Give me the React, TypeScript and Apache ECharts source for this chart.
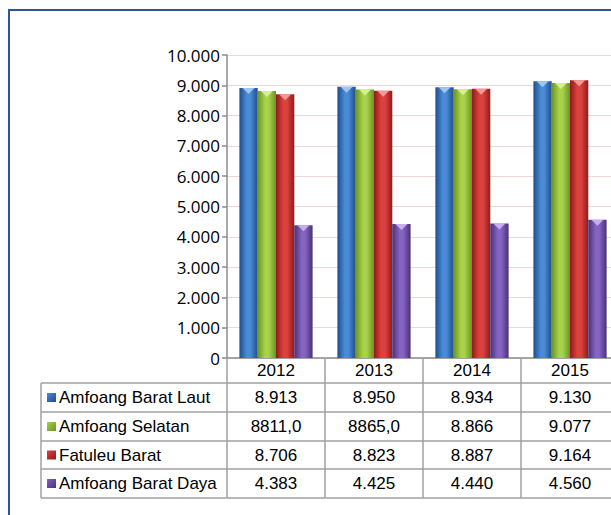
import React, { useEffect, useRef } from 'react';
import * as echarts from 'echarts';

const years = ['2012', '2013', '2014', '2015'];
const seriesNames = ['Amfoang Barat Laut', 'Amfoang Selatan', 'Fatuleu Barat', 'Amfoang Barat Daya'];
const baratLaut = [8913, 8950, 8934, 9130];
const selatan = [8811, 8865, 8866, 9077];
const fatuleuBarat = [8706, 8823, 8887, 9164];
const baratDaya = [4383, 4425, 4440, 4560];
const baratLautText = ['8.913', '8.950', '8.934', '9.130'];
const selatanText = ['8811,0', '8865,0', '8.866', '9.077'];
const fatuleuBaratText = ['8.706', '8.823', '8.887', '9.164'];
const baratDayaText = ['4.383', '4.425', '4.440', '4.560'];
const yMin = 0;
const yMax = 10000;
const yStep = 1000;

const palettes = [
  { edge: '#1f4d8a', mid: '#4a8ad6', light: '#a4cdf5' },
  { edge: '#6a9420', mid: '#a8d14c', light: '#dcf29a' },
  { edge: '#8f1b1b', mid: '#dc423d', light: '#f7a3a0' },
  { edge: '#48307a', mid: '#8663c0', light: '#d0b6f4' },
];

const fmt = (v: number) => String(v).replace(/\B(?=(\d{3})+(?!\d))/g, '.');

const grad = (p: { edge: string; mid: string }) =>
  new echarts.graphic.LinearGradient(0, 0, 1, 0, [
    { offset: 0, color: p.edge },
    { offset: 0.4, color: p.mid },
    { offset: 0.6, color: p.mid },
    { offset: 1, color: p.edge },
  ]);

export default function App() {
  const ref = useRef<HTMLDivElement>(null);
  useEffect(() => {
    if (!ref.current) return;
    const chart = echarts.init(ref.current, undefined, { renderer: 'svg' });
    const values = [baratLaut, selatan, fatuleuBarat, baratDaya];
    const texts = [baratLautText, selatanText, fatuleuBaratText, baratDayaText];
    const gridLeft = 227;
    const gridTop = 55;
    const gridHeight = 303;
    const gridWidth = 392;
    const barW = 18.3;
    const barSeries: any[] = values.map((d, i) => ({
      name: seriesNames[i],
      type: 'bar',
      data: d,
      barWidth: barW,
      barGap: '0%',
      itemStyle: { color: grad(palettes[i]) },
      z: 2,
    }));
    const capSeries: any[] = values.map((d, i) => ({
      name: seriesNames[i] + ' cap',
      type: 'pictorialBar',
      data: d,
      barWidth: barW,
      barGap: '0%',
      symbol: 'triangle',
      symbolRotate: 180,
      symbolPosition: 'end',
      symbolSize: [12, 6],
      itemStyle: { color: palettes[i].light, opacity: 0.9 },
      z: 3,
    }));
    chart.setOption({
      animation: false,
      grid: { left: gridLeft, top: gridTop, height: gridHeight, width: gridWidth },
      xAxis: {
        type: 'category',
        data: years,
        axisLine: { lineStyle: { color: '#8c8c8c', width: 1.5 } },
        axisTick: { show: true, interval: 0, length: 140, lineStyle: { color: '#a0a0a0', width: 1.5 } },
        axisLabel: { margin: 4, color: '#000', fontSize: 17, fontFamily: 'Liberation Sans' },
      },
      yAxis: {
        type: 'value',
        min: yMin,
        max: yMax,
        interval: yStep,
        axisLine: { show: true, lineStyle: { color: '#8c8c8c', width: 1.5 } },
        axisTick: { show: true, length: 5, lineStyle: { color: '#8c8c8c', width: 1.5 } },
        axisLabel: { margin: 7, color: '#000', fontSize: 17, fontFamily: 'Open Sans', formatter: (v: number) => fmt(v) },
        splitLine: { lineStyle: { color: '#f2d6d6', width: 1 } },
      },
      series: [...barSeries, ...capSeries],
    });

    const rowLines = [383, 412, 441, 469, 498];
    const tableLeft = 41;
    const tableRight = 660;
    const centers = years.map((y) => chart.convertToPixel({ xAxisIndex: 0 }, y) as number);
    const els: any[] = [];
    els.push({
      type: 'rect',
      shape: { x: 9, y: 10, width: 800, height: 700 },
      style: { fill: 'none', stroke: '#2f5597', lineWidth: 2 },
      silent: true,
    });
    rowLines.forEach((ly) => {
      els.push({
        type: 'line',
        shape: { x1: tableLeft, y1: ly, x2: tableRight, y2: ly },
        style: { stroke: '#a0a0a0', lineWidth: 1.5 },
      });
    });
    els.push({
      type: 'line',
      shape: { x1: tableLeft, y1: rowLines[0], x2: tableLeft, y2: rowLines[rowLines.length - 1] },
      style: { stroke: '#a0a0a0', lineWidth: 1.5 },
    });
    seriesNames.forEach((name, i) => {
      const cy = (rowLines[i] + rowLines[i + 1]) / 2;
      els.push({
        type: 'rect',
        shape: { x: 47, y: cy - 4.5, width: 9, height: 9 },
        style: {
          fill: new echarts.graphic.LinearGradient(0, 0, 1, 1, [
            { offset: 0, color: palettes[i].mid },
            { offset: 1, color: palettes[i].edge },
          ]),
        },
      });
      els.push({
        type: 'text',
        x: 59,
        y: cy,
        style: { text: name, fontSize: 17, fontFamily: 'Liberation Sans', fill: '#000', verticalAlign: 'middle', align: 'left' },
      });
      texts[i].forEach((t, j) => {
        els.push({
          type: 'text',
          x: centers[j],
          y: cy,
          style: { text: t, fontSize: 17, fontFamily: 'Liberation Sans', fill: '#000', verticalAlign: 'middle', align: 'center' },
        });
      });
    });
    chart.setOption({ graphic: els });
    return () => chart.dispose();
  }, []);
  return (
    <div style={{ position: 'fixed', left: 0, top: 0, width: 611, height: 515, overflow: 'hidden', background: '#fff' }}>
      <div ref={ref} style={{ width: 660, height: 515 }} />
    </div>
  );
}
